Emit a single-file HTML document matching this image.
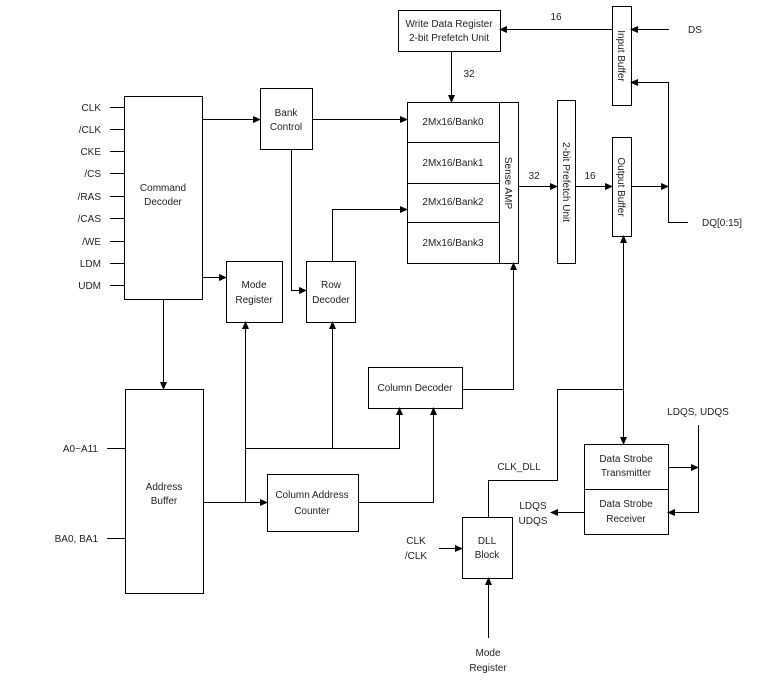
<!DOCTYPE html>
<html><head><meta charset="utf-8"><style>
html,body{margin:0;padding:0;background:#fff;}
svg{display:block;}
text{font-family:"Liberation Sans",sans-serif;font-size:10px;fill:#222;}
</style></head><body>
<svg width="783" height="688" viewBox="0 0 783 688" xmlns="http://www.w3.org/2000/svg">
<defs><marker id="a" markerWidth="8" markerHeight="8" refX="7" refY="4" orient="auto" markerUnits="userSpaceOnUse"><path d="M0,0.5 L8,4 L0,7.5 z" fill="#000"/></marker></defs>
<g fill="none" stroke="#000" stroke-width="1">
<!-- boxes -->
<rect x="124.5" y="96.5" width="78" height="203"/>
<rect x="260.5" y="88.5" width="52" height="61"/>
<rect x="226.5" y="261.5" width="56" height="61"/>
<rect x="306.5" y="261.5" width="49" height="61"/>
<rect x="398.5" y="10.5" width="102" height="41"/>
<rect x="407.5" y="102.5" width="92" height="161"/>
<rect x="499.5" y="102.5" width="19" height="161"/>
<line x1="407" y1="142.5" x2="499" y2="142.5"/>
<line x1="407" y1="183.5" x2="499" y2="183.5"/>
<line x1="407" y1="222.5" x2="499" y2="222.5"/>
<rect x="557.5" y="100.5" width="18" height="163"/>
<rect x="612.5" y="6.5" width="19" height="99"/>
<rect x="612.5" y="137.5" width="19" height="99"/>
<rect x="368.5" y="367.5" width="94" height="41"/>
<rect x="125.5" y="389.5" width="78" height="204"/>
<rect x="267.5" y="474.5" width="91" height="57"/>
<rect x="462.5" y="517.5" width="50" height="61"/>
<rect x="584.5" y="444.5" width="84" height="90"/>
<line x1="584" y1="489.5" x2="668" y2="489.5"/>
<!-- pins -->
<path d="M110 107.5H124M110 129.5H124M110 151.5H124M110 173.5H124M110 196.5H124M110 218.5H124M110 241.5H124M110 263.5H124M110 285.5H124"/>
<path d="M107 448.5H125M107 538.5H125"/>
</g>
<g fill="none" stroke="#000" stroke-width="1" marker-end="url(#a)">
<path d="M202 119.5H260"/>
<path d="M312 119.5H407"/>
<path d="M202 277.5H226"/>
<path d="M291.5 149V290.5H306"/>
<path d="M332.5 261V209.5H407"/>
<path d="M451.5 51V102"/>
<path d="M612 29.5H500"/>
<path d="M669 29.5H631"/>
<path d="M688 222.5H668.5V82.5H631"/>
<path d="M518 186.5H557"/>
<path d="M575 186.5H612"/>
<path d="M631 186.5H668"/>
<path d="M462 389.5H513.5V263"/>
<path d="M163.5 299V389"/>
<path d="M203 502.5H267"/>
<path d="M245.5 502V322"/>
<path d="M245.5 448.5H399.5V408"/>
<path d="M332.5 448.5V322"/>
<path d="M358 502.5H433.5V408"/>
<path d="M623.5 390V236"/>
<path d="M488.5 517V480.5H557.5V389.5H623.5V444"/>
<path d="M668 467.5H698"/>
<path d="M698.5 425V512.5H668"/>
<path d="M584 512.5H551"/>
<path d="M439 548.5H462"/>
<path d="M488.5 638V578"/>
</g>
<!-- labels -->
<g text-anchor="end">
<text x="101" y="111">CLK</text><text x="101" y="133">/CLK</text><text x="101" y="155">CKE</text>
<text x="101" y="177">/CS</text><text x="101" y="200">/RAS</text><text x="101" y="222">/CAS</text>
<text x="101" y="245">/WE</text><text x="101" y="267">LDM</text><text x="101" y="289">UDM</text>
<text x="98" y="452">A0~A11</text><text x="98" y="542">BA0, BA1</text>
</g>
<g text-anchor="middle">
<text x="163" y="191">Command</text><text x="163" y="205">Decoder</text>
<text x="286" y="116">Bank</text><text x="286" y="130">Control</text>
<text x="254" y="288">Mode</text><text x="254" y="303">Register</text>
<text x="331" y="288">Row</text><text x="331" y="303">Decoder</text>
<text x="449" y="27">Write Data Register</text><text x="449" y="41">2-bit Prefetch Unit</text>
<text x="453" y="125">2Mx16/Bank0</text><text x="453" y="166">2Mx16/Bank1</text>
<text x="453" y="205">2Mx16/Bank2</text><text x="453" y="246">2Mx16/Bank3</text>
<text x="415" y="391">Column Decoder</text>
<text x="164" y="490">Address</text><text x="164" y="504">Buffer</text>
<text x="312" y="498">Column Address</text><text x="312" y="514">Counter</text>
<text x="487" y="544">DLL</text><text x="487" y="558">Block</text>
<text x="626" y="462">Data Strobe</text><text x="626" y="476">Transmitter</text>
<text x="626" y="507">Data Strobe</text><text x="626" y="522">Receiver</text>
<text x="488" y="656">Mode</text><text x="488" y="671">Register</text>
<text x="416" y="544">CLK</text><text x="416" y="559">/CLK</text>
<text x="533" y="509">LDQS</text><text x="533" y="524">UDQS</text>
<text x="698" y="415">LDQS, UDQS</text>
<text x="519" y="470">CLK_DLL</text>
<text x="556" y="20">16</text><text x="469" y="77">32</text>
<text x="534" y="179">32</text><text x="590" y="179">16</text>
</g>
<text x="688" y="33">DS</text>
<text x="702" y="226">DQ[0:15]</text>
<text transform="translate(505,183) rotate(90)" text-anchor="middle">Sense AMP</text>
<text transform="translate(563,182) rotate(90)" text-anchor="middle">2-bit Prefetch Unit</text>
<text transform="translate(618,56) rotate(90)" text-anchor="middle">Input Buffer</text>
<text transform="translate(618,187) rotate(90)" text-anchor="middle">Output Buffer</text>
</svg>
</body></html>
